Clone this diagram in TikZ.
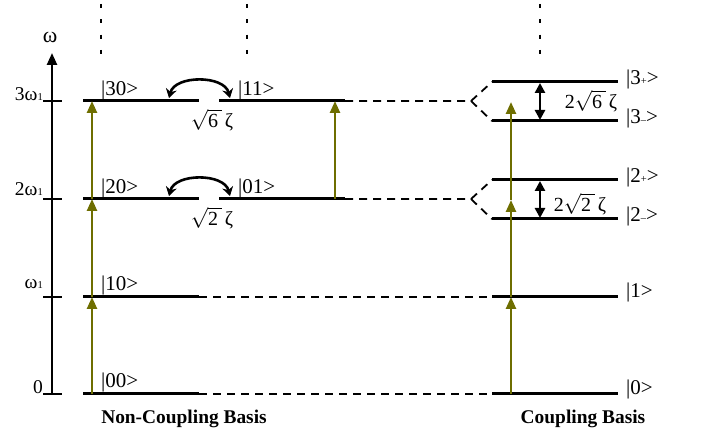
\documentclass[tikz,border=0pt]{standalone}
\usepackage{fontspec}
\setmainfont{Liberation Serif}
\usetikzlibrary{arrows.meta}
\definecolor{olivec}{RGB}{110,110,0}
\begin{document}
\begin{tikzpicture}[x=1pt,y=-1pt,
  level/.style={line width=3pt},
  dashlink/.style={line width=1.8pt,dash pattern=on 8pt off 6pt},
  vdots/.style={line width=2pt,dash pattern=on 4pt off 11.3pt},
  excite/.style={draw=olivec,line width=2.5pt,-{Triangle[width=10pt,length=12pt]}},
  split/.style={line width=2.5pt,{Triangle[width=10pt,length=10pt]}-{Triangle[width=10pt,length=10pt]}},
  swap/.style={line width=2.6pt,{Stealth[width=11pt,length=9pt]}-{Stealth[width=11pt,length=9pt]}},
  ket/.style={inner sep=0pt,font=\fontsize{21}{21}\selectfont},
  ticklab/.style={inner sep=0pt,anchor=base east,font=\fontsize{19.5}{19.5}\selectfont},
  titlelab/.style={inner sep=0pt,anchor=base,font=\fontsize{19.4}{19.4}\bfseries\selectfont},
  coup/.style={inner sep=0pt,font=\fontsize{20}{20}\selectfont}]
\useasboundingbox (0,0) rectangle (702,435);
\newcommand{\sm}[1]{{\fontsize{10.5}{10.5}\selectfont #1}}
% axis
\coordinate (ax0) at (52,395);
\coordinate (axtop) at (52,53);
\draw[line width=2.5pt,-{Triangle[width=10pt,length=12pt]}] (ax0) -- (axtop);
\node[inner sep=0pt,font=\fontsize{22}{22}\selectfont] (om) at (50,37) {ω};
\foreach \yy/\nm in {394/t0,297/t1,199/t2,101/t3}{
  \coordinate (\nm a) at (43,\yy); \coordinate (\nm b) at (62,\yy);
  \draw[line width=2.5pt] (\nm a) -- (\nm b);}
\node[ticklab] (lab0) at (43,394) {0};
\node[ticklab] (lab1) at (43,289) {ω\sm{1}};
\node[ticklab] (lab2) at (43,196) {2ω\sm{1}};
\node[ticklab] (lab3) at (43,101) {3ω\sm{1}};
% dotted top lines
\foreach \xx/\nm in {101/d1,247/d2,540/d3}{
  \coordinate (\nm a) at (\xx,4); \coordinate (\nm b) at (\xx,55);
  \draw[vdots] (\nm a) -- (\nm b);}
% left levels
\coordinate (A0) at (83,394); \coordinate (B0) at (199,394);
\coordinate (A1) at (83,297); \coordinate (B1) at (199,297);
\coordinate (A2) at (83,199); \coordinate (B2) at (199,199);
\coordinate (C2) at (219,199); \coordinate (D2) at (345,199);
\coordinate (A3) at (83,101); \coordinate (B3) at (199,101);
\coordinate (C3) at (219,101); \coordinate (D3) at (345,101);
\draw[level] (A0) -- (B0);
\draw[level] (A1) -- (B1);
\draw[level] (A2) -- (B2);
\draw[level] (C2) -- (D2);
\draw[level] (A3) -- (B3);
\draw[level] (C3) -- (D3);
% right levels
\foreach \yy/\nm in {394/R0,297/R1,219/R2m,180/R2p,121/R3m,82/R3p}{
  \coordinate (\nm a) at (492,\yy); \coordinate (\nm b) at (618,\yy);
  \draw[level] (\nm a) -- (\nm b);}
% dashed links
\coordinate (F2) at (471,199);
\coordinate (F3) at (471,101);
\draw[dashlink] (B0) -- (R0a);
\draw[dashlink] (B1) -- (R1a);
\draw[dashlink] (D2) -- (F2) -- (R2pa);
\draw[dashlink] (F2) -- (R2ma);
\draw[dashlink] (D3) -- (F3) -- (R3pa);
\draw[dashlink] (F3) -- (R3ma);
% excitation arrows
\coordinate (e0) at (92,394); \coordinate (e1) at (92,297);
\coordinate (e2) at (92,199); \coordinate (e3) at (92,101);
\draw[excite] (e0) -- (e1);
\draw[excite] (e1) -- (e2);
\draw[excite] (e2) -- (e3);
\coordinate (f2) at (335,199); \coordinate (f3) at (335,101);
\draw[excite] (f2) -- (f3);
\coordinate (g0) at (511,394); \coordinate (g1) at (511,297);
\coordinate (g2) at (511,200); \coordinate (g3) at (511,102);
\draw[excite] (g0) -- (g1);
\draw[excite] (g1) -- (g2);
\draw[excite] (g2) -- (g3);
% splitting arrows
\coordinate (s3t) at (540,83); \coordinate (s3b) at (540,120);
\coordinate (s2t) at (540,181); \coordinate (s2b) at (540,218);
\draw[split] (s3t) -- (s3b);
\draw[split] (s2t) -- (s2b);
% swap arrows
\coordinate (w3l) at (169,98); \coordinate (w3r) at (230,98);
\coordinate (w2l) at (169,196); \coordinate (w2r) at (230,196);
\draw[swap] (w3l) .. controls (175,75) and (224,75) .. (w3r);
\draw[swap] (w2l) .. controls (175,173) and (224,173) .. (w2r);
% kets left
\node[ket,anchor=base west] (k30) at (101,96) {|30>};
\node[ket,anchor=base west] (k11) at (238,96) {|11>};
\node[ket,anchor=base west] (k20) at (101,194) {|20>};
\node[ket,anchor=base west] (k01) at (238,194) {|01>};
\node[ket,anchor=base west] (k10) at (101,291) {|10>};
\node[ket,anchor=base west] (k00) at (101,388) {|00>};
% kets right
\node[ket,anchor=base west] (r3p) at (626,85) {|3\sm{+}>};
\node[ket,anchor=base west] (r3m) at (626,124) {|3\sm{–}>};
\node[ket,anchor=base west] (r2p) at (626,183) {|2\sm{+}>};
\node[ket,anchor=base west] (r2m) at (626,222) {|2\sm{–}>};
\node[ket,anchor=base west] (r1) at (626,298) {|1>};
\node[ket,anchor=base west] (r0) at (626,395) {|0>};
% coupling labels
\node[coup] (c6) at (212,120) {$\sqrt{\hbox{6}\,}$\,ζ};
\node[coup] (c2) at (212,218) {$\sqrt{\hbox{2}\,}$\,ζ};
\node[coup] (cc6) at (591,101) {2$\sqrt{\hbox{6}\,}$\,ζ};
\node[coup] (cc2) at (580,204) {2$\sqrt{\hbox{2}\,}$\,ζ};
% titles
\node[titlelab] (t1) at (184,424) {Non-Coupling Basis};
\node[titlelab] (t2) at (583,424) {Coupling Basis};
\end{tikzpicture}
\end{document}
